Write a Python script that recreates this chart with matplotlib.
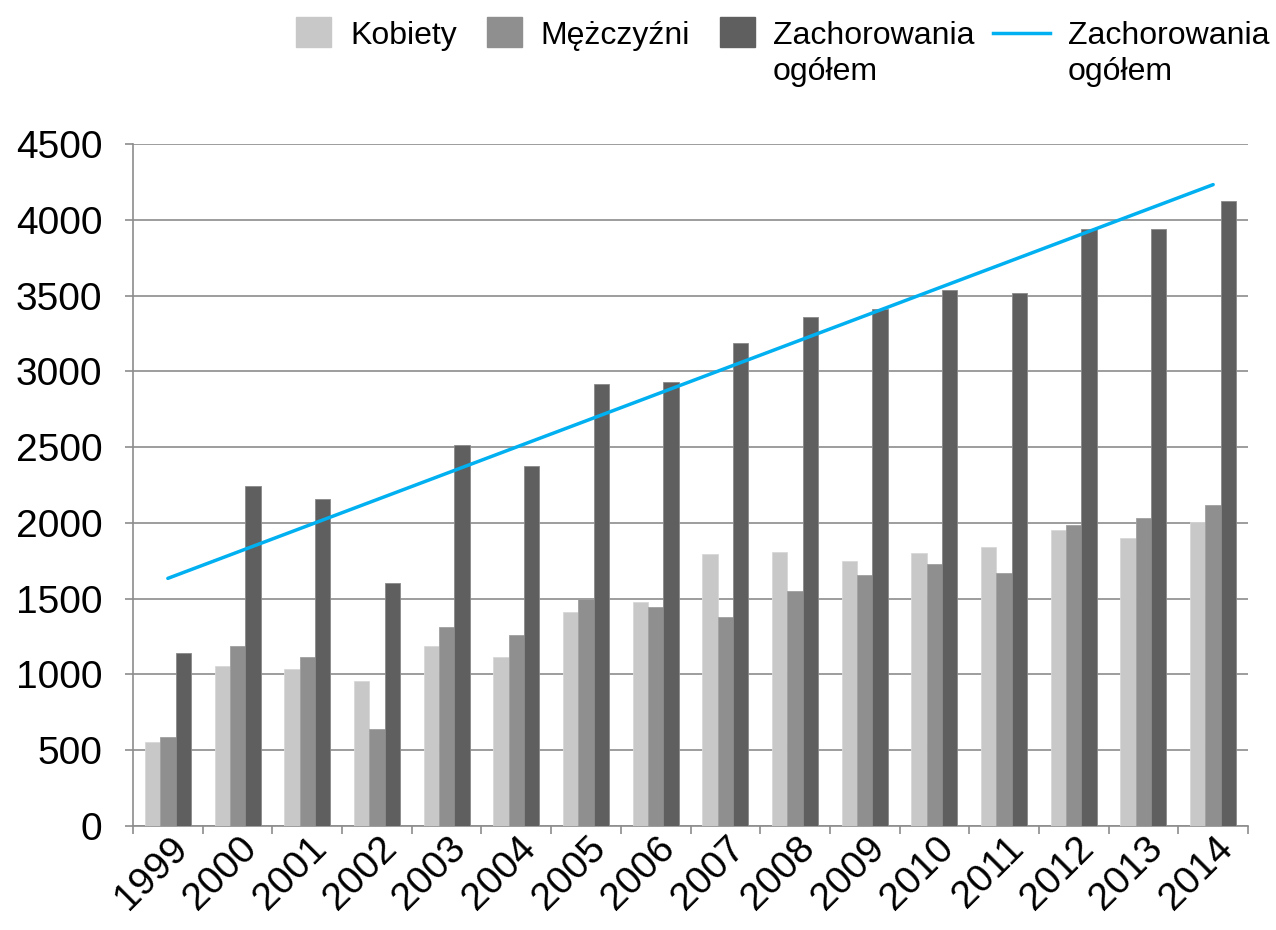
import matplotlib
matplotlib.use("Agg")
import matplotlib.pyplot as plt
import matplotlib.patches as mpatches
from matplotlib.lines import Line2D
from matplotlib.transforms import ScaledTranslation
import numpy as np

plt.rcParams['font.family'] = ['Liberation Sans', 'DejaVu Sans']

years = ['1999', '2000', '2001', '2002', '2003', '2004', '2005', '2006',
         '2007', '2008', '2009', '2010', '2011', '2012', '2013', '2014']
kobiety = [555, 1053, 1035, 960, 1189, 1112, 1411, 1480,
           1798, 1806, 1751, 1804, 1840, 1953, 1903, 2006]
mezczyzni = [590, 1187, 1117, 639, 1314, 1260, 1497, 1442,
             1381, 1550, 1655, 1730, 1668, 1989, 2031, 2119]
ogolem = [1143, 2244, 2156, 1601, 2513, 2378, 2915, 2931,
          3186, 3358, 3413, 3536, 3514, 3941, 3938, 4127]
trend_years = ['1999', '2014']
trend_values = [1634, 4232]

labels = ['Kobiety', 'Mężczyźni', 'Zachorowania\nogółem', 'Zachorowania\nogółem']
c_k, c_m, c_o, c_line = '#c8c8c8', '#8f8f8f', '#5f5f5f', '#00b0f0'
grid_c = '#8c8c8c'

W, H = 1276, 930
fig = plt.figure(figsize=(W / 100, H / 100), dpi=100)
ax = fig.add_axes([133 / W, 1 - 826 / H, 1115 / W, (826 - 144) / H])

x = np.arange(len(years))
w = 0.22
ax.bar(x - w, kobiety, w, color=c_k, edgecolor='#d8d8d8', linewidth=0.6, zorder=3)
ax.bar(x, mezczyzni, w, color=c_m, edgecolor='#a0a0a0', linewidth=0.6, zorder=3)
ax.bar(x + w, ogolem, w, color=c_o, edgecolor='#8a8a8a', linewidth=0.6, zorder=3)
tx = [years.index(y) for y in trend_years]
ax.plot(tx, trend_values, color=c_line, lw=2.5, solid_capstyle='round', zorder=4)

ax.set_xlim(-0.5, len(years) - 0.5)
ax.set_ylim(0, 4500)
ax.set_yticks(np.arange(0, 4501, 500))
ax.yaxis.grid(True, color=grid_c, lw=1.2, zorder=0)
ax.set_axisbelow(True)
for s in ['top', 'right']:
    ax.spines[s].set_visible(False)
for s in ['left', 'bottom']:
    ax.spines[s].set_color(grid_c)
    ax.spines[s].set_linewidth(1.2)

ax.tick_params(axis='y', length=6, width=1.2, color=grid_c, labelsize=28, pad=16)
ax.set_xticks(x)
ax.set_xticklabels(years, rotation=45, ha='right', va='center',
                   rotation_mode='anchor', fontsize=28)
ax.set_xticks(np.arange(-0.5, len(years), 1), minor=True)
ax.tick_params(axis='x', which='major', length=0, pad=12)
ax.tick_params(axis='x', which='minor', length=6, width=1.2, color=grid_c)
off = ScaledTranslation(14 / 100, 0, fig.dpi_scale_trans)
for lab in ax.get_xticklabels():
    lab.set_transform(lab.get_transform() + off)

# legend (drawn at fixed figure positions)
def fx(px):
    return px / W

def fy(py):
    return 1 - py / H

leg_patches = [(296, c_k), (487, c_m), (720, c_o)]
for px, col in leg_patches:
    fig.patches.append(mpatches.Rectangle((fx(px), fy(47)), 35 / W, 30 / H,
                                          color=col, transform=fig.transFigure))
fig.add_artist(Line2D([fx(993), fx(1050)], [fy(33), fy(33)], color=c_line, lw=2.5,
                      transform=fig.transFigure))
text_x = [350, 540, 773, 1068]
for tx_, lab in zip(text_x, labels):
    for i, line in enumerate(lab.split('\n')):
        fig.text(fx(tx_), fy(44 + 36 * i), line, fontsize=23, va='baseline', ha='left')

fig.savefig('out.png', dpi=100)
